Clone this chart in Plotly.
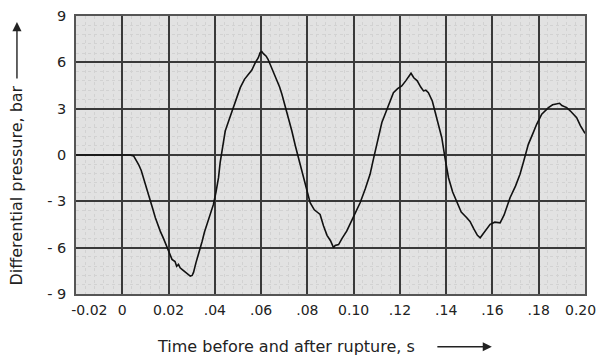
import plotly.graph_objects as go

time_s = [-0.020, -0.010, 0.000, 0.0035, 0.0049, 0.0060, 0.0070, 0.0082, 0.0092, 0.0105,
          0.0121, 0.0132, 0.0143, 0.0155, 0.0164, 0.0178, 0.0193, 0.0205, 0.0215, 0.0228,
          0.0235, 0.0243, 0.0250, 0.0258, 0.0270, 0.0282, 0.0294, 0.0302, 0.0308, 0.0318,
          0.0330, 0.0345, 0.0355, 0.0366, 0.0380, 0.0394, 0.0405, 0.0416, 0.0423, 0.0438,
          0.0445, 0.0462, 0.0481, 0.0495, 0.0510, 0.0528, 0.0546, 0.0560, 0.0575, 0.0588,
          0.0596, 0.0603, 0.0610, 0.0622, 0.0630, 0.0639, 0.0650, 0.0660, 0.0668, 0.0680,
          0.0690, 0.0711, 0.0733, 0.0748, 0.0762, 0.0789, 0.0800, 0.0812, 0.0830, 0.0845,
          0.0855, 0.0870, 0.0885, 0.0900, 0.0913, 0.0920, 0.0935, 0.0950, 0.0970, 0.0990,
          0.1010, 0.1028, 0.1050, 0.1071, 0.1085, 0.1100, 0.1122, 0.1140, 0.1158, 0.1172,
          0.1190, 0.1208, 0.1225, 0.1240, 0.1248, 0.1260, 0.1275, 0.1290, 0.1302, 0.1312,
          0.1323, 0.1340, 0.1352, 0.1365, 0.1381, 0.1395, 0.1410, 0.1428, 0.1446, 0.1465,
          0.1489, 0.1503, 0.1520, 0.1535, 0.1547, 0.1560, 0.1575, 0.1590, 0.1610, 0.1633,
          0.1650, 0.1665, 0.1676, 0.1700, 0.1719, 0.1735, 0.1755, 0.1775, 0.1791, 0.1813,
          0.1830, 0.1842, 0.1860, 0.1878, 0.1890, 0.1900, 0.1921, 0.1940, 0.1964, 0.1980,
          0.2000]
pressure_bar = [0.0, 0.02, 0.0, 0.0, -0.06, -0.3, -0.6, -1.0, -1.47, -2.1,
                -2.98, -3.5, -4.06, -4.6, -4.93, -5.4, -6.0, -6.4, -6.76, -6.9,
                -7.2, -7.08, -7.3, -7.4, -7.55, -7.7, -7.84, -7.8, -7.6, -7.0,
                -6.43, -5.6, -5.0, -4.5, -3.9, -3.2, -2.4, -1.47, -0.5, 0.9,
                1.55, 2.3, 3.07, 3.7, 4.36, 4.9, 5.23, 5.5, 5.98, 6.3,
                6.63, 6.7, 6.56, 6.4, 6.2, 5.88, 5.5, 5.2, 4.8, 4.4,
                3.93, 2.85, 1.55, 0.6, -0.17, -1.68, -2.4, -3.09, -3.55, -3.7,
                -3.85, -4.6, -5.2, -5.55, -6.0, -5.85, -5.8, -5.4, -4.93, -4.3,
                -3.7, -3.09, -2.2, -1.25, -0.3, 0.7, 2.1, 2.8, 3.5, 4.04,
                4.3, 4.47, 4.8, 5.1, 5.29, 5.0, 4.8, 4.4, 4.15, 4.2,
                4.04, 3.5, 2.85, 2.0, 1.12, -0.2, -1.47, -2.4, -3.09, -3.7,
                -4.06, -4.3, -4.8, -5.2, -5.36, -5.1, -4.8, -4.49, -4.35, -4.39,
                -3.9, -3.2, -2.77, -2.0, -1.25, -0.4, 0.69, 1.4, 1.99, 2.64,
                2.9, 3.07, 3.25, 3.33, 3.35, 3.2, 3.07, 2.8, 2.42, 1.9,
                1.4]

x_tick_vals = [-0.02, 0.0, 0.02, 0.04, 0.06, 0.08, 0.10, 0.12, 0.14, 0.16, 0.18]
x_tick_text = ["\u00a0\u00a0\u00a0\u00a0\u00a0\u00a0-0.02", "0", "0.02", ".04", ".06", ".08",
               "0.10", ".12", ".14", ".16", ".18"]
x_last_tick_val = 0.20
x_last_tick_text = "0.20"
y_tick_vals = [-9, -6, -3, 0, 3, 6, 9]
y_tick_text = ["- 9", "- 6", "- 3", "0", "3", "6", "9"]

FONT = "DejaVu Sans"
INK = "#222222"

fig = go.Figure()
fig.add_trace(go.Scatter(x=time_s, y=pressure_bar, mode="lines",
                         line=dict(color="#111111", width=1.6), showlegend=False,
                         hoverinfo="skip"))

fig.update_layout(
    width=599, height=356,
    margin=dict(l=76, r=14, t=16, b=62, autoexpand=False),
    paper_bgcolor="white",
    plot_bgcolor="#e2e2e2",
    font=dict(family=FONT, size=14, color=INK),
    xaxis=dict(range=[-0.02, 0.20], tickvals=x_tick_vals, ticktext=x_tick_text,
               showgrid=True, gridcolor="#3a3a3a", gridwidth=1.5, automargin=False,
               zeroline=False, showline=True, linecolor="#555555", linewidth=1.5,
               mirror=True, ticks="", ticklabelstandoff=2, ticklabeloverflow="allow",
               tickfont=dict(family=FONT, size=14, color=INK),
               minor=dict(dtick=0.004, showgrid=True, gridcolor="#d2d2d2", gridwidth=1, griddash="dot")),
    yaxis=dict(range=[-9, 9], tickvals=y_tick_vals, ticktext=y_tick_text,
               showgrid=True, gridcolor="#3a3a3a", gridwidth=1.5, automargin=False,
               zeroline=False, showline=True, linecolor="#555555", linewidth=1.5,
               mirror=True, ticks="", ticklabelstandoff=5,
               tickfont=dict(family=FONT, size=14.5, color=INK),
               minor=dict(dtick=0.6, showgrid=True, gridcolor="#d2d2d2", gridwidth=1, griddash="dot")),
)

# last x tick label, kept inside the page
fig.add_annotation(text=x_last_tick_text, xref="x", yref="paper", x=x_last_tick_val, y=-0.056,
                   xanchor="right", yanchor="middle", xshift=12, showarrow=False,
                   borderpad=0, font=dict(family=FONT, size=14, color=INK))

# x-axis title and arrow
fig.add_annotation(text="Time before and after rupture, s", xref="paper", yref="paper",
                   x=0.4126, y=-0.19, showarrow=False, xanchor="center", yanchor="middle",
                   font=dict(family=FONT, size=16, color=INK))
fig.add_annotation(text="", xref="paper", yref="paper", x=0.817, y=-0.19,
                   ax=-56, ay=0, showarrow=True, arrowhead=2, arrowsize=1.3,
                   arrowwidth=1.4, arrowcolor=INK)

# y-axis title and arrow
fig.add_annotation(text="Differential pressure, bar", xref="paper", yref="paper",
                   x=-0.116, y=0.39, showarrow=False, textangle=-90,
                   xanchor="center", yanchor="middle",
                   font=dict(family=FONT, size=16, color=INK))
fig.add_annotation(text="", xref="paper", yref="paper", x=-0.116, y=0.978,
                   ax=0, ay=58, showarrow=True, arrowhead=2, arrowsize=1.3,
                   arrowwidth=1.4, arrowcolor=INK)

fig.write_html("out.html")
